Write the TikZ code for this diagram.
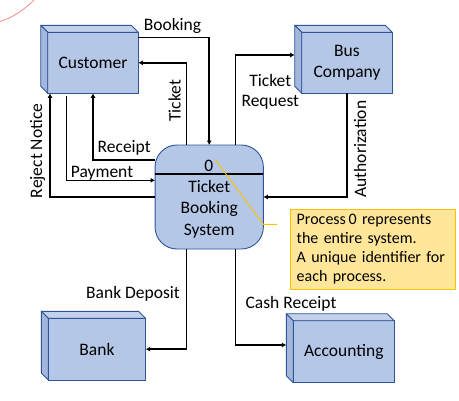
\documentclass[tikz,border=0pt]{standalone}
\usepackage{fontspec}
\setmainfont{Carlito}
\usetikzlibrary{arrows.meta,calc}
\definecolor{efill}{HTML}{B4C7E7}
\definecolor{etop}{HTML}{C3D1EC}
\definecolor{eside}{HTML}{A3B6DC}
\definecolor{eline}{HTML}{2F5597}
\definecolor{nfill}{HTML}{FFE699}
\definecolor{nline}{HTML}{FFC000}
\definecolor{pen}{HTML}{F28A8A}
\newcommand\lblfont{\fontsize{17.5}{21}\selectfont}
\newcommand\notefont{\fontsize{16}{19}\selectfont}
\begin{document}
\begin{tikzpicture}[x=1pt,y=-1pt,
  entity/.style={draw=eline, fill=efill, line width=0.9pt, outer sep=0pt, inner sep=0pt, font=\lblfont, align=center},
  topface/.style={draw=eline, fill=etop, line width=0.9pt, line join=round},
  sideface/.style={draw=eline, fill=eside, line width=0.9pt, line join=round},
  procbox/.style={draw=eline, fill=efill, line width=0.9pt, rounded corners=22pt, outer sep=0pt, inner sep=0pt},
  lbl/.style={font=\lblfont, inner sep=0pt, align=center},
  arr/.style={draw=black, line width=1.5pt, -{Latex[length=4.5pt,width=5pt]}},
  divider/.style={draw=black, line width=1.8pt},
  notebox/.style={draw=nline, fill=nfill, line width=0.9pt, font=\notefont, align=left, anchor=north west, minimum width=165, minimum height=80, text width=153, inner xsep=6pt, inner ysep=0pt, outer sep=0pt},
  pointer/.style={draw=nline, line width=0.9pt}
]
\useasboundingbox (0,0) rectangle (459,400);

% pen annotation
\draw[pen, line width=0.8pt] (0,21.5) .. controls (12,18) and (24,10) .. (34,0);

% entities
\node[entity, minimum width=90.6, minimum height=61] (cust) at (93,62.8) {Customer};
\node[entity, minimum width=90.6, minimum height=61] (bus) at (347,62.8) {Bus\\Company};
\node[entity, minimum width=97.4, minimum height=61.7] (bank) at (97,349.2) {Bank};
\node[entity, minimum width=101, minimum height=62] (acct) at (343.8,351.7) {Accounting};
\foreach \n in {cust,bus,bank,acct}{
  \filldraw[topface] (\n.north west) -- ++(-7,-7) -- ([shift={(-7,-7)}]\n.north east) -- (\n.north east) -- cycle;
  \filldraw[sideface] (\n.north west) -- ++(-7,-7) -- ([shift={(-7,-7)}]\n.south west) -- (\n.south west) -- cycle;
}

% process
\node[procbox, minimum width=108.3, minimum height=104] (proc) at (209.2,197) {};
\draw[divider] ([yshift=23.3pt]proc.west) -- ([yshift=23.3pt]proc.east);
\node[lbl, anchor=base] (zero) at (208.8,171.7) {0};
\node[lbl, font=\fontsize{17.5}{21.2}\selectfont] (ptext) at (209.2,209.2) {Ticket\\Booking\\System};

% note
\node[notebox] (note) at (290.7,209.3) {Process\,0 represents\\the entire system.\\A unique identifier for\\each process.};
\coordinate (pbend) at (263.3,224.3);
\coordinate (pend) at (277,224.3);
\draw[pointer] ([shift={(6.5,-6.5)}]zero.center) -- (pbend) -- (pend);

% connectors
\draw[arr] ([yshift=-5.4pt]cust.north east) -| (proc.north);
\draw[arr] ([xshift=-22.5pt]proc.north) |- (cust.east);
\draw[arr] ([yshift=37pt]proc.west) -| (cust.south);
\draw[arr] ([shift={(-26.3,3)}]cust.south) |- ([yshift=16.7pt]proc.west);
\draw[arr] (proc.west) -| ([xshift=2.3pt]cust.south west);
\draw[arr] ([xshift=26.5pt]proc.north) |- ([shift={(-7,-7.8)}]bus.west);
\draw[arr] (bus.south) |- (proc.east);
\draw[arr] ([xshift=-22.5pt]proc.south) |- (bank.east);
\draw[arr] ([xshift=26.5pt]proc.south) |- ([shift={(-7,-6.7)}]acct.west);

% labels
\node[lbl] (lbook) at (172.5,25.7) {Booking};
\node[lbl, rotate=90] (ltick) at (174.5,101) {Ticket};
\node[lbl] (lrec) at (124.2,147.8) {Receipt};
\node[lbl] (lpay) at (102,172.8) {Payment};
\node[lbl, rotate=90] (lrej) at (37.5,151) {Reject Notice};
\node[lbl, font=\fontsize{17.5}{20}\selectfont] (ltreq) at (270.3,91.5) {Ticket\\Request};
\node[lbl, rotate=90] (lauth) at (360,149) {Authorization};
\node[lbl] (lbank) at (133,294) {Bank Deposit};
\node[lbl] (lcash) at (291,304) {Cash Receipt};
\end{tikzpicture}
\end{document}
